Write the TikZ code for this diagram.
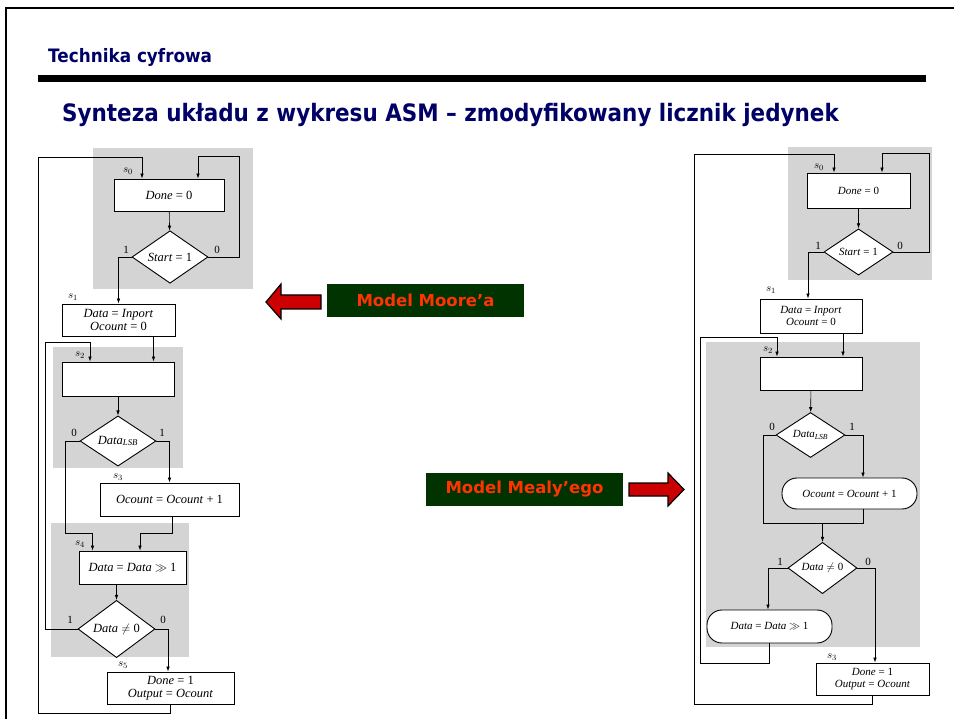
\documentclass[tikz,border=0pt]{standalone}
\usepackage{fontspec}
\usepackage{graphicx}
\setmainfont{Liberation Serif}
\newfontfamily\slidefont{DejaVu Sans}
\usepackage{tikz}
\usetikzlibrary{positioning,arrows.meta,shapes.geometric}

\definecolor{navy}{RGB}{0,0,102}
\definecolor{scangray}{RGB}{212,212,212}
\definecolor{labelgreen}{RGB}{0,51,0}
\definecolor{labelred}{RGB}{255,51,0}
\definecolor{arrowred}{RGB}{204,0,0}

\newcommand{\vn}[1]{\textit{#1}}

\begin{document}
\begin{tikzpicture}[
		x=1pt, y=-1pt,
		statebox/.style={
			draw,
			fill=white,
			line width=0.9pt,
			inner sep=0pt,
			align=center,
			font=\fontsize{12.5}{13.5}\selectfont
		},
		smallbox/.style={statebox, font=\fontsize{11}{12}\selectfont},
		testbox/.style={
			draw,
			diamond,
			fill=white,
			line width=0.9pt,
			inner sep=0pt,
			font=\fontsize{12.5}{13.5}\selectfont
		},
		smalltest/.style={testbox, font=\fontsize{11}{12}\selectfont},
		condbox/.style={smallbox, rounded corners=15pt},
		flow/.style={line width=0.6pt},
		arrow/.style={flow, -{Latex[length=5pt,width=3.5pt]}},
		stlabel/.style={inner sep=0pt, font=\fontsize{11}{11}\selectfont},
		bitlabel/.style={inner sep=0pt, font=\fontsize{11}{11}\selectfont},
		scan/.style={fill=scangray},
		heading/.style={anchor=west, inner sep=0pt, text=navy},
		modelbox/.style={
			fill=labelgreen,
			text=labelred,
			inner sep=0pt,
			minimum width=197pt,
			minimum height=33pt,
			font=\slidefont\bfseries\fontsize{16.5}{16.5}\selectfont
		},
		blockarrow/.style={fill=arrowred, draw=black, line width=1.2pt}
	]
		\useasboundingbox (0,0) rectangle (954,719);

		% slide frame and header
		\draw[line width=2pt] (954,8) -- (6,8) -- (6,719);
		\fill (38,75) rectangle (926,82);
		\node[heading, font=\slidefont\bfseries\fontsize{18.5}{18.5}\selectfont] (course) at (48,57) {\scalebox{0.91}[1]{Technika cyfrowa}};
		\node[heading, font=\slidefont\bfseries\fontsize{24}{24}\selectfont] (title) at (62,115) {\scalebox{0.895}[1]{Synteza układu z wykresu ASM – zmodyfikowany licznik jedynek}};

		% ---- Moore chart (left) ----
		\fill[scan] (93,148) rectangle (253,289);
		\fill[scan] (53,347) rectangle (183,468);
		\fill[scan] (51,523) rectangle (189,657);

		\node[statebox, minimum width=110pt, minimum height=32pt] (Ls0) at (169,195) {\vn{Done} = 0};
		\node[testbox, minimum width=76pt, minimum height=45pt] (Lstart) at (170,257) {\vn{Start} = 1};
		\node[statebox, minimum width=113pt, minimum height=32pt] (Ls1) at (118.5,320) {\vn{Data} = \vn{Inport}\\\vn{Ocount} = 0};
		\node[statebox, minimum width=112pt, minimum height=34pt] (Ls2) at (118,379) {};
		\node[testbox, minimum width=76pt, minimum height=46pt] (Llsb) at (118,441) {\vn{Data}\textsubscript{\vn{LSB}}};
		\node[statebox, minimum width=139pt, minimum height=33pt] (Ls3) at (169.5,499.5) {\vn{Ocount} = \vn{Ocount} + 1};
		\node[statebox, minimum width=107pt, minimum height=33pt] (Ls4) at (132.5,567.5) {\vn{Data} = \vn{Data} $\gg$ 1};
		\node[testbox, minimum width=77pt, minimum height=46pt] (Lnz) at (116.5,629) {\vn{Data} $\neq$ 0};
		\node[statebox, minimum width=127pt, minimum height=32pt] (Ls5) at (170.5,688) {\vn{Done} = 1\\\vn{Output} = \vn{Ocount}};

		\node[stlabel] (Ls0lab) at (128,171) {$s_0$};
		\node[stlabel] (Ls1lab) at (73,297) {$s_1$};
		\node[stlabel] (Ls2lab) at (80,355) {$s_2$};
		\node[stlabel] (Ls3lab) at (118,477) {$s_3$};
		\node[stlabel] (Ls4lab) at (80,544) {$s_4$};
		\node[stlabel] (Ls5lab) at (123,665) {$s_5$};

		\node[bitlabel] (Lstart1) at (126,250) {1};
		\node[bitlabel] (Lstart0) at (217,250) {0};
		\node[bitlabel] (Llsb0) at (74,433) {0};
		\node[bitlabel] (Llsb1) at (162,433) {1};
		\node[bitlabel] (Lnz1) at (70,620) {1};
		\node[bitlabel] (Lnz0) at (163,620) {0};

		\coordinate (Lret) at (38,713);
		\coordinate (Ltop) at (38,157);
		\coordinate (Lloop) at (239,156);
		\coordinate (Linner) at (45,342);
		\coordinate (Lmerge) at (65,533);

		\draw[arrow] (Ls5.south) |- (Lret) -- (Ltop) -| ([xshift=-27pt]Ls0.north);
		\draw[arrow] (Lstart.east) -| (Lloop) -| ([xshift=29pt]Ls0.north);
		\draw[arrow] (Ls0) -- (Lstart);
		\draw[arrow] (Lstart.west) -| (Ls1.north);
		\draw[arrow] ([xshift=35pt]Ls1.south) -- ([xshift=35pt]Ls1.south |- Ls2.north);
		\draw[arrow] (Lnz.west) -| (Linner) -| ([xshift=-28pt]Ls2.north);
		\draw[arrow] (Ls2) -- (Llsb);
		\draw[arrow] (Llsb.east) -| (Ls3.north);
		\draw[arrow] (Llsb.west) -| (Lmerge) -| ([xshift=-40pt]Ls4.north);
		\draw[arrow] ([xshift=3pt]Ls3.south) |- ([xshift=7.5pt]Ls4.north |- Lmerge) -- ([xshift=7.5pt]Ls4.north);
		\draw[arrow] (Lnz.north |- Ls4.south) -- (Lnz.north);
		\draw[arrow] (Lnz.east) -| ([xshift=-2.5pt]Ls5.north);

		% ---- Mealy chart (right) ----
		\fill[scan] (788,147) rectangle (932,280);
		\fill[scan] (706,342) rectangle (920,647);

		\node[smallbox, minimum width=103pt, minimum height=35pt] (Rs0) at (858.5,190.5) {\vn{Done} = 0};
		\node[smalltest, minimum width=69pt, minimum height=46pt] (Rstart) at (858.5,252) {\vn{Start} = 1};
		\node[smallbox, minimum width=102pt, minimum height=34pt] (Rs1) at (811,316) {\vn{Data} = \vn{Inport}\\\vn{Ocount} = 0};
		\node[smallbox, minimum width=102pt, minimum height=33pt] (Rs2) at (811,373.5) {};
		\node[smalltest, minimum width=69pt, minimum height=45pt] (Rlsb) at (810.5,435) {\vn{Data}\textsubscript{\vn{LSB}}};
		\node[condbox, minimum width=135pt, minimum height=31pt] (Rinc) at (849.5,493.5) {\vn{Ocount} = \vn{Ocount} + 1};
		\node[smalltest, minimum width=69pt, minimum height=45pt] (Rnz) at (822.5,568) {\vn{Data} $\neq$ 0};
		\node[condbox, minimum width=125pt, minimum height=33pt] (Rshift) at (769.5,626.5) {\vn{Data} = \vn{Data} $\gg$ 1};
		\node[smallbox, minimum width=113pt, minimum height=32pt] (Rs3) at (872.5,679) {\vn{Done} = 1\\\vn{Output} = \vn{Ocount}};

		\node[stlabel] (Rs0lab) at (819,167) {$s_0$};
		\node[stlabel] (Rs1lab) at (771,290) {$s_1$};
		\node[stlabel] (Rs2lab) at (768,350) {$s_2$};
		\node[stlabel] (Rs3lab) at (832,657) {$s_3$};

		\node[bitlabel] (Rstart1) at (818,246) {1};
		\node[bitlabel] (Rstart0) at (900,246) {0};
		\node[bitlabel] (Rlsb0) at (772,427) {0};
		\node[bitlabel] (Rlsb1) at (852,427) {1};
		\node[bitlabel] (Rnz1) at (780,562) {1};
		\node[bitlabel] (Rnz0) at (868,562) {0};

		\coordinate (Rret) at (694,704);
		\coordinate (Rtop) at (694,154);
		\coordinate (Rloop) at (929,153);
		\coordinate (Rinner) at (700,663);
		\coordinate (Rinnertop) at (700,337);
		\coordinate (Rmerge) at (763,523);

		\draw[arrow] (Rs3.south) |- (Rret) -- (Rtop) -| ([xshift=-24.5pt]Rs0.north);
		\draw[arrow] (Rstart.east) -| (Rloop) -| ([xshift=23.5pt]Rs0.north);
		\draw[arrow] (Rs0) -- (Rstart);
		\draw[arrow] (Rstart.west) -| ([xshift=-3pt]Rs1.north);
		\draw[arrow] ([xshift=32pt]Rs1.south) -- ([xshift=32pt]Rs1.south |- Rs2.north);
		\draw[arrow] (Rshift.south) |- (Rinner) -- (Rinnertop) -| ([xshift=-34pt]Rs2.north);
		\draw[arrow] (Rs2) -- (Rlsb);
		\draw[arrow] (Rlsb.east) -| ([xshift=13.5pt]Rinc.north);
		\draw[flow] (Rlsb.west) -| (Rmerge) -| ([xshift=13.5pt]Rinc.south);
		\draw[arrow] (Rnz.north |- Rmerge) -- (Rnz.north);
		\draw[arrow] (Rnz.west) -| ([xshift=-1.5pt]Rshift.north);
		\draw[arrow] (Rnz.east) -| ([xshift=2.5pt]Rs3.north);

		% ---- model labels ----
		\node[modelbox] (moore) at (425.5,300.5) {Model Moore’a};
		\node[modelbox] (mealy) at (524.5,489.5) {Model Mealy’ego};
		\draw[blockarrow] (321,295) -- (281,295) -- (281,284) -- (266,302) -- (281,319) -- (281,309) -- (321,309) -- cycle;
		\draw[blockarrow] (629,483) -- (668,483) -- (668,473) -- (684,489.5) -- (668,506) -- (668,496) -- (629,496) -- cycle;
	\end{tikzpicture}
\end{document}
